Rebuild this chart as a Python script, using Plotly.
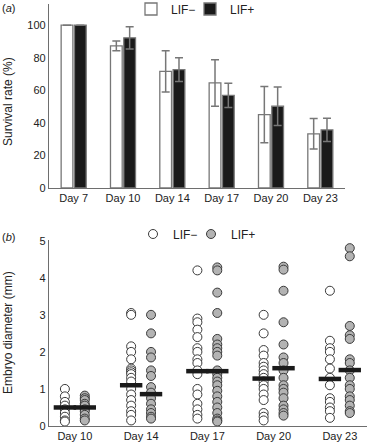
import plotly.graph_objects as go

# ---------- Panel (a): survival rate ----------
days_a = ["Day 7", "Day 10", "Day 14", "Day 17", "Day 20", "Day 23"]
surv_minus = [100, 87.3, 71.6, 64.5, 45.1, 33.3]
surv_minus_err = [0, 3.0, 12.7, 14.3, 17.3, 9.4]
surv_plus = [100, 92.2, 72.7, 56.9, 50.2, 35.7]
surv_plus_err = [0, 6.8, 7.3, 7.5, 11.8, 7.1]

# ---------- Panel (b): embryo diameter ----------
days_b = ["Day 10", "Day 14", "Day 17", "Day 20", "Day 23"]
diam_minus = [
    [1.0, 0.8, 0.65, 0.55, 0.45, 0.35, 0.25, 0.15, 0.12],
    [3.05, 3.0, 2.15, 2.0, 1.8, 1.55, 1.5, 1.45, 1.4, 1.3, 1.2, 1.0, 0.85, 0.7, 0.55, 0.4, 0.3, 0.15],
    [4.2, 2.9, 2.8, 2.6, 2.4, 2.1, 2.0, 1.8, 1.7, 1.5, 1.4, 1.0, 0.85, 0.6, 0.45, 0.3, 0.2],
    [3.0, 2.5, 2.05, 1.9, 1.7, 1.6, 1.5, 1.4, 1.3, 1.2, 1.1, 1.0, 0.85, 0.7, 0.35, 0.25, 0.15],
    [3.65, 2.3, 2.1, 2.0, 1.8, 1.55, 1.3, 1.1, 0.75, 0.65, 0.5, 0.4, 0.22],
]
diam_plus = [
    [0.82, 0.75, 0.7, 0.6, 0.55, 0.45, 0.4, 0.3, 0.2, 0.15],
    [3.0, 2.5, 2.0, 1.85, 1.5, 1.35, 1.05, 0.9, 0.75, 0.6, 0.45, 0.35, 0.25, 0.2],
    [4.28, 4.2, 3.6, 3.05, 2.35, 2.2, 2.1, 2.0, 1.9, 1.5, 1.4, 1.3, 1.2, 1.1, 0.95, 0.8, 0.65, 0.5, 0.35, 0.2, 0.15, 0.12],
    [4.3, 4.22, 3.65, 2.8, 2.2, 1.85, 1.7, 1.5, 1.3, 1.1, 1.0, 0.9, 0.75, 0.55, 0.45, 0.35, 0.28],
    [4.8, 4.58, 2.7, 2.45, 2.35, 1.8, 1.7, 1.5, 1.3, 1.1, 1.0, 0.8, 0.7, 0.55, 0.4, 0.35],
]
mean_minus = [0.5, 1.1, 1.48, 1.28, 1.27]
mean_plus = [0.5, 0.86, 1.48, 1.56, 1.51]

FONT = "Liberation Sans, Arial, sans-serif"
TXT = "#222222"
AX = "#6e6e6e"
OFF = 0.15

fig = go.Figure()

# bars
fig.add_trace(go.Bar(
    x=days_a, y=surv_minus, name="LIF\u2212",
    marker=dict(color="white", line=dict(color="#777777", width=1.3)),
    error_y=dict(type="data", array=surv_minus_err, color="#777777", thickness=1.5, width=4),
    xaxis="x", yaxis="y", legend="legend",
))
fig.add_trace(go.Bar(
    x=days_a, y=surv_plus, name="LIF+",
    marker=dict(color="#1a1a1a", line=dict(color="#777777", width=1.3)),
    error_y=dict(type="data", array=surv_plus_err, color="#777777", thickness=1.5, width=4),
    xaxis="x", yaxis="y", legend="legend2",
))

# scatter points
xm, ym, xp, yp = [], [], [], []
for i, vals in enumerate(diam_minus):
    xm += [i - OFF] * len(vals)
    ym += vals
for i, vals in enumerate(diam_plus):
    xp += [i + OFF] * len(vals)
    yp += vals

fig.add_trace(go.Scatter(
    x=xm, y=ym, mode="markers", name="LIF\u2212",
    marker=dict(symbol="circle", size=9, color="white", line=dict(color="#3a3a3a", width=1)),
    xaxis="x2", yaxis="y2", legend="legend3",
))
fig.add_trace(go.Scatter(
    x=xp, y=yp, mode="markers", name="LIF+",
    marker=dict(symbol="circle", size=9, color="#b3b3b3", line=dict(color="#3a3a3a", width=1)),
    xaxis="x2", yaxis="y2", legend="legend4",
))
# means
fig.add_trace(go.Scatter(
    x=[i - OFF for i in range(len(days_b))], y=mean_minus, mode="markers", showlegend=False,
    marker=dict(symbol="line-ew", size=16, line=dict(color="#1a1a1a", width=4.5)),
    xaxis="x2", yaxis="y2",
))
fig.add_trace(go.Scatter(
    x=[i + OFF for i in range(len(days_b))], y=mean_plus, mode="markers", showlegend=False,
    marker=dict(symbol="line-ew", size=16, line=dict(color="#1a1a1a", width=4.5)),
    xaxis="x2", yaxis="y2",
))

W, H = 367, 446
L, R, T, B = 49, 0, 4, 20
pw = W - L - R
ph = H - T - B

axis_common = dict(showline=True, linecolor=AX, linewidth=1.2, ticks="", showgrid=False,
                   zeroline=False, tickfont=dict(family=FONT, size=11, color=TXT))

def px_x(p):
    return (p - L) / pw

def px_y(p):
    return (H - B - p) / ph

def leg(icon_x, icon_y):
    return dict(orientation="h", x=px_x(icon_x - 20), y=px_y(icon_y), xanchor="left",
                yanchor="middle", font=dict(family=FONT, size=12, color=TXT),
                bgcolor="rgba(0,0,0,0)", itemwidth=30, borderwidth=0)

fig.update_layout(
    width=W, height=H,
    margin=dict(l=L, r=R, t=T, b=B, autoexpand=False),
    paper_bgcolor="white", plot_bgcolor="white",
    font=dict(family=FONT, size=11, color=TXT),
    barmode="group", bargap=0.46, bargroupgap=0.12,
    xaxis=dict(domain=[0, px_x(345)], anchor="y", range=[-0.5, 5.5], automargin=False, **axis_common),
    yaxis=dict(domain=[px_y(188), 1], anchor="x", range=[0, 113], automargin=False,
               tickvals=[0, 20, 40, 60, 80, 100], **axis_common),
    xaxis2=dict(domain=[0, 1], anchor="y2", range=[-0.39, 4.41], automargin=False,
                tickvals=list(range(len(days_b))), ticktext=days_b, **axis_common),
    yaxis2=dict(domain=[0, px_y(240)], anchor="x2", range=[0, 5.02], automargin=False,
                tickvals=[0, 1, 2, 3, 4, 5], **axis_common),
    legend=leg(151, 9),
    legend2=leg(210, 9),
    legend3=leg(153, 234),
    legend4=leg(211, 234),
    annotations=[
        dict(text="(<i>a</i>)", xref="paper", yref="paper", x=px_x(0), y=px_y(8),
             xanchor="left", yanchor="middle", showarrow=False, font=dict(size=11)),
        dict(text="(<i>b</i>)", xref="paper", yref="paper", x=px_x(0), y=px_y(237),
             xanchor="left", yanchor="middle", showarrow=False, font=dict(size=11)),
        dict(text="Survival rate (%)", xref="paper", yref="paper", x=px_x(8),
             y=px_y(102), xanchor="center", yanchor="middle", textangle=-90,
             showarrow=False, font=dict(size=12)),
        dict(text="Embryo diameter (mm)", xref="paper", yref="paper", x=px_x(8),
             y=px_y(333), xanchor="center", yanchor="middle", textangle=-90,
             showarrow=False, font=dict(size=12)),
    ],
)

fig.write_html("out.html", config={"displayModeBar": False},
               post_script="document.body.style.margin='0px';")
